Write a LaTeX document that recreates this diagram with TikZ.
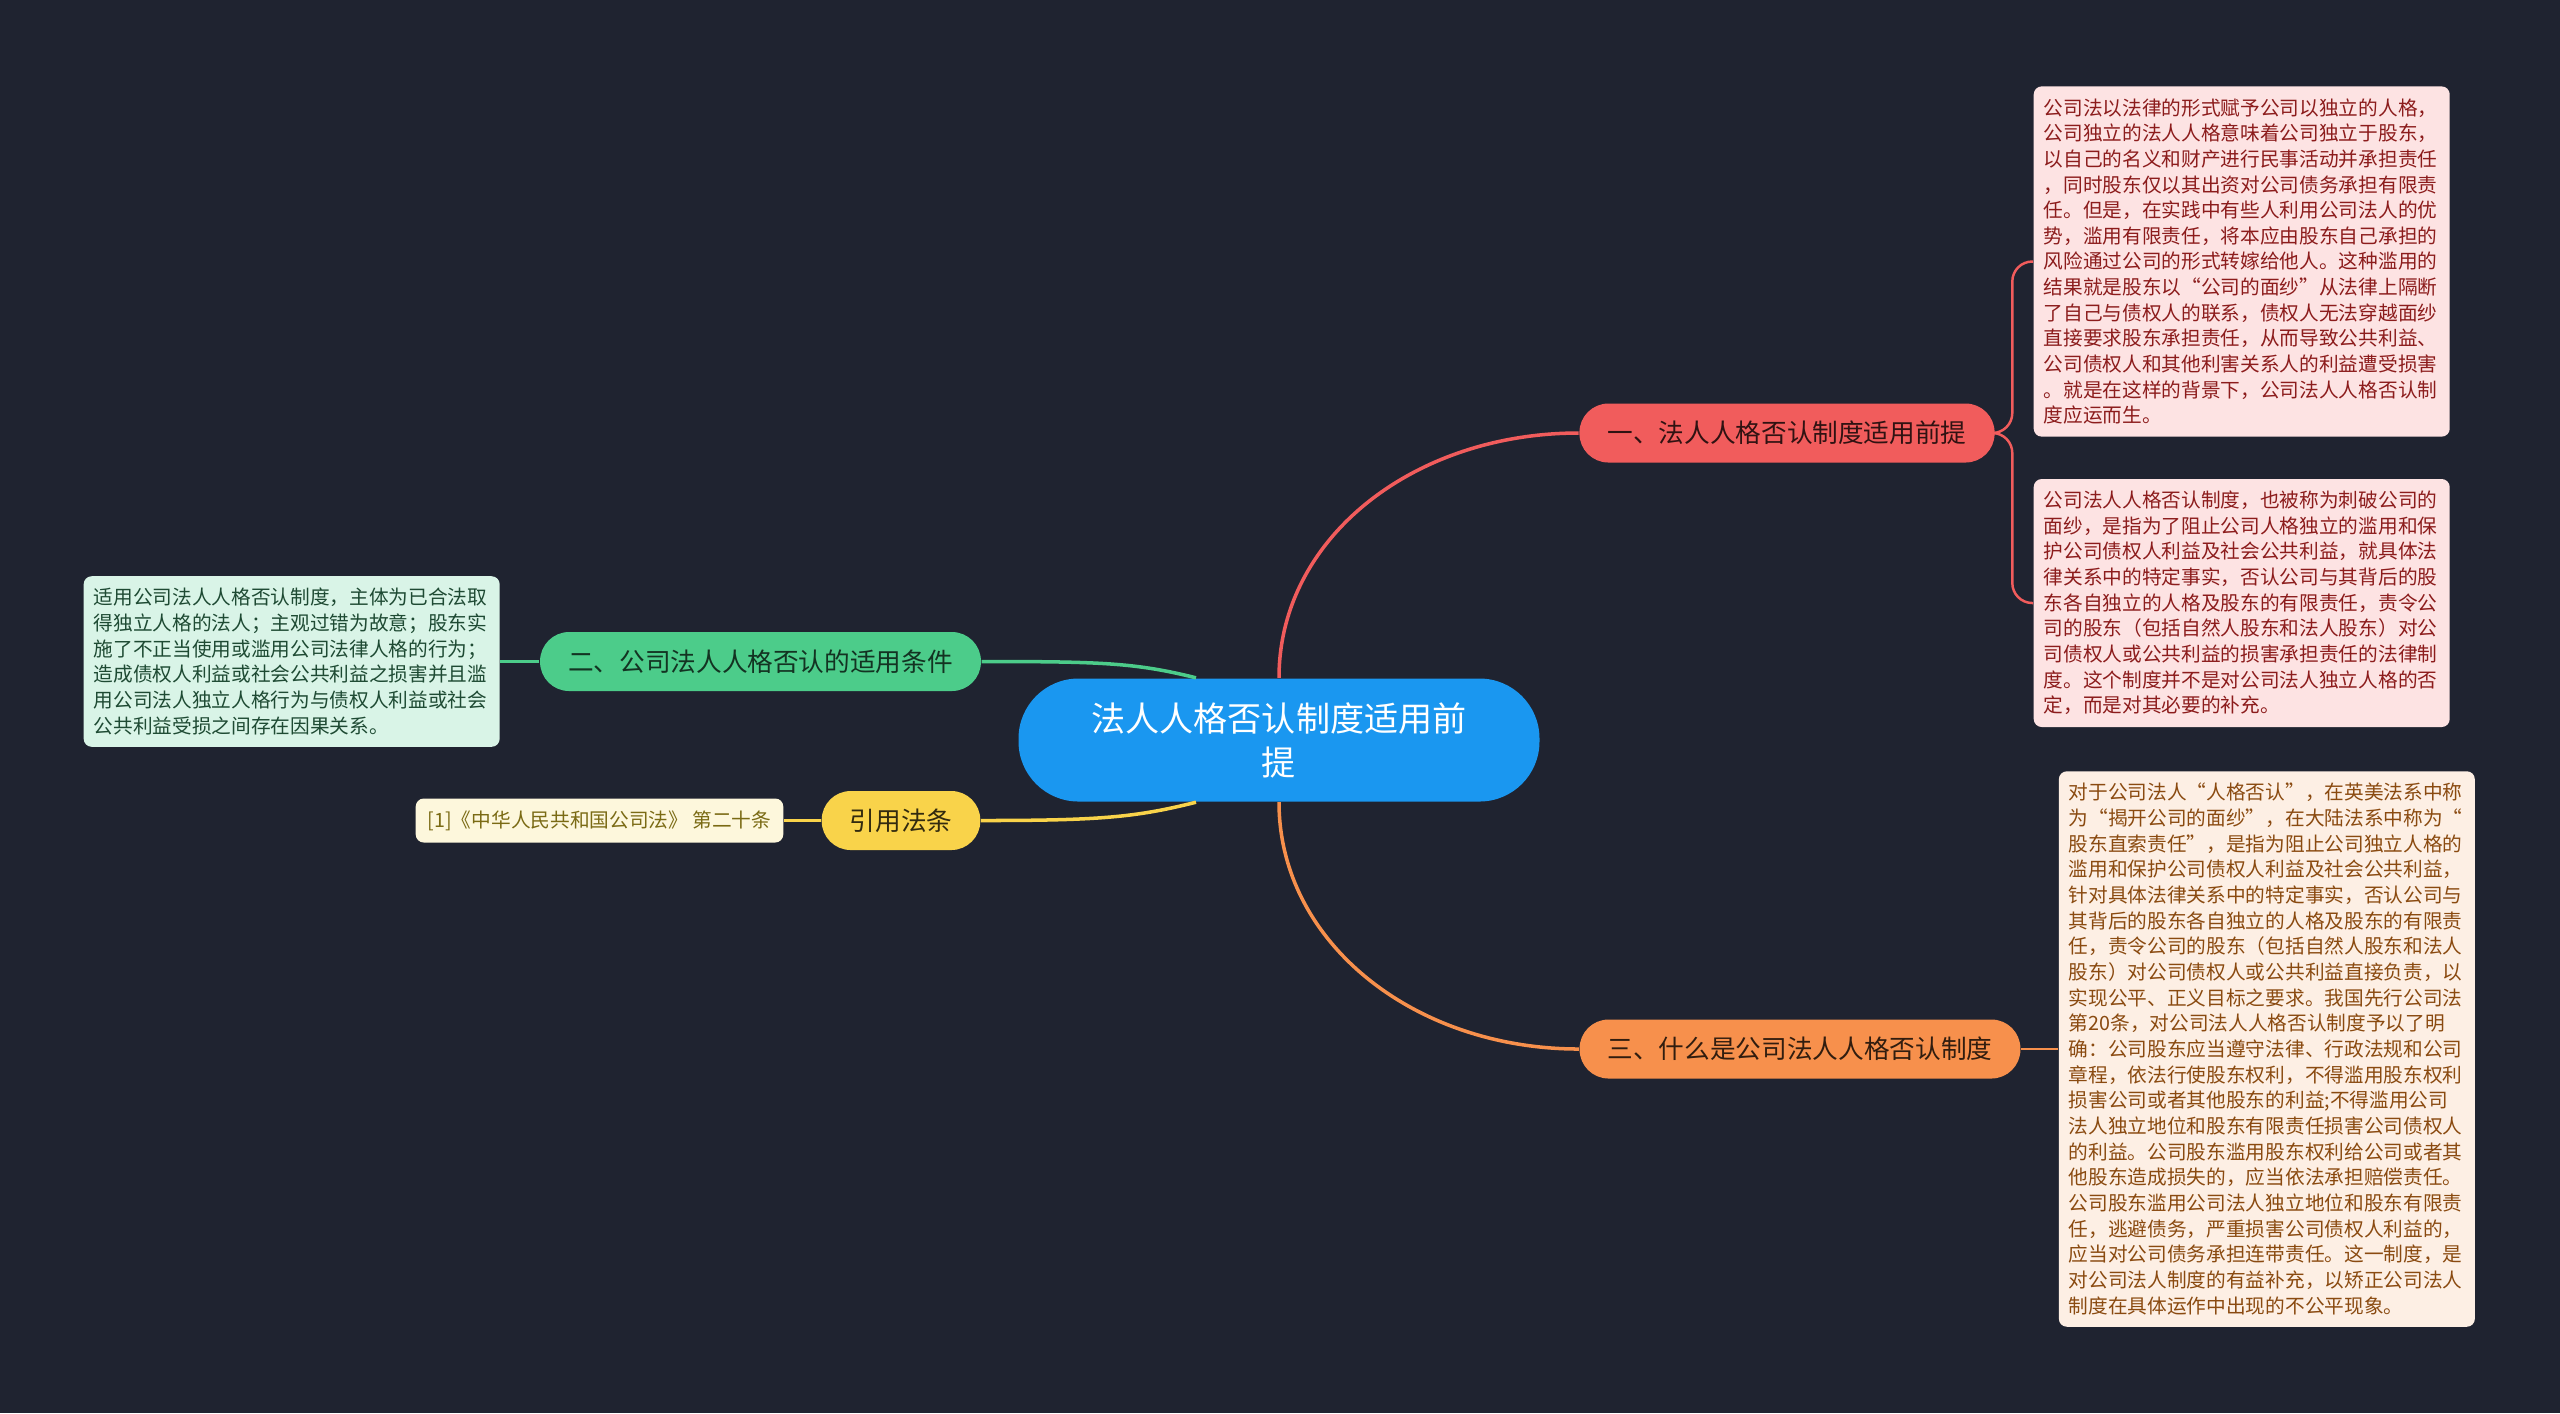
\documentclass[tikz,border=0pt]{standalone}
\usepackage{fontspec}
\setmainfont{Noto Sans CJK SC}
\usetikzlibrary{positioning}

\definecolor{bgdark}{HTML}{1F2330}
\definecolor{rootblue}{HTML}{1A97F0}
\definecolor{redtopic}{HTML}{F15C5C}
\definecolor{orangetopic}{HTML}{F7904C}
\definecolor{greentopic}{HTML}{4CCC8A}
\definecolor{yellowtopic}{HTML}{F9D34A}
\definecolor{redleaf}{HTML}{FDE3E3}
\definecolor{orangeleaf}{HTML}{FDEFE4}
\definecolor{greenleaf}{HTML}{D9F4E7}
\definecolor{yellowleaf}{HTML}{FDF7DC}
\definecolor{redtext}{HTML}{8C1C1C}
\definecolor{orangetext}{HTML}{8A4A10}
\definecolor{greentext}{HTML}{1E4A33}
\definecolor{yellowtext}{HTML}{7A6A14}

\begin{document}
\begin{tikzpicture}[
    node distance=0.38cm,
    root/.style={rectangle, rounded corners=0.6cm, fill=rootblue, text=white, minimum width=5.21cm, minimum height=1.23cm, align=center, font=\fontsize{9.7}{12.5}\selectfont},
    topic/.style={rectangle, rounded corners=0.29cm, minimum height=0.59cm, inner xsep=0.28cm, inner ysep=0pt, font=\fontsize{7.3}{9}\selectfont},
    leaf/.style={rectangle, rounded corners=0.08cm, text width=3.96cm, align=left, inner xsep=0.1cm, inner ysep=0.12cm, font=\fontsize{5.6}{7.3}\selectfont},
    link/.style={line width=1pt},
    twig/.style={line width=0.7pt, rounded corners=0.2cm}
]

\fill[bgdark] (0,0) rectangle (25.6,-14.13);
\useasboundingbox (0,0) rectangle (25.6,-14.13);

\node[root] (root) at (12.79,-7.40) {法人人格否认制度适用前\\提};
\node[topic, fill=redtopic, text=black!80!redtopic] (premise) at (17.87,-4.33) {一、法人人格否认制度适用前提};
\node[topic, fill=orangetopic, text=black!80!orangetopic] (whatis) at (18.00,-10.49) {三、什么是公司法人人格否认制度};
\node[topic, fill=greentopic, text=black!75!greentopic] (conditions) at (7.605,-6.615) {二、公司法人人格否认的适用条件};
\node[topic, fill=yellowtopic, text=black!80!yellowtopic] (cite) at (9.01,-8.205) {引用法条};

\node[leaf, fill=redleaf, text=redtext, anchor=west] (premisea) at (20.33,-2.615) {公司法以法律的形式赋予公司以独立的人格，\\公司独立的法人人格意味着公司独立于股东，\\以自己的名义和财产进行民事活动并承担责任\\，同时股东仅以其出资对公司债务承担有限责\\任。但是，在实践中有些人利用公司法人的优\\势，滥用有限责任，将本应由股东自己承担的\\风险通过公司的形式转嫁给他人。这种滥用的\\结果就是股东以“公司的面纱”从法律上隔断\\了自己与债权人的联系，债权人无法穿越面纱\\直接要求股东承担责任，从而导致公共利益、\\公司债权人和其他利害关系人的利益遭受损害\\。就是在这样的背景下，公司法人人格否认制\\度应运而生。};
\node[leaf, fill=redleaf, text=redtext, anchor=west] (premiseb) at (20.33,-6.03) {公司法人人格否认制度，也被称为刺破公司的\\面纱，是指为了阻止公司人格独立的滥用和保\\护公司债权人利益及社会公共利益，就具体法\\律关系中的特定事实，否认公司与其背后的股\\东各自独立的人格及股东的有限责任，责令公\\司的股东（包括自然人股东和法人股东）对公\\司债权人或公共利益的损害承担责任的法律制\\度。这个制度并不是对公司法人独立人格的否\\定，而是对其必要的补充。};
\node[leaf, fill=orangeleaf, text=orangetext, right=0.37cm of whatis] (whatisa) {对于公司法人“人格否认”，在英美法系中称\\为“揭开公司的面纱”，在大陆法系中称为“\\股东直索责任”，是指为阻止公司独立人格的\\滥用和保护公司债权人利益及社会公共利益，\\针对具体法律关系中的特定事实，否认公司与\\其背后的股东各自独立的人格及股东的有限责\\任，责令公司的股东（包括自然人股东和法人\\股东）对公司债权人或公共利益直接负责，以\\实现公平、正义目标之要求。我国先行公司法\\第20条，对公司法人人格否认制度予以了明\\确：公司股东应当遵守法律、行政法规和公司\\章程，依法行使股东权利，不得滥用股东权利\\损害公司或者其他股东的利益;不得滥用公司\\法人独立地位和股东有限责任损害公司债权人\\的利益。公司股东滥用股东权利给公司或者其\\他股东造成损失的，应当依法承担赔偿责任。\\公司股东滥用公司法人独立地位和股东有限责\\任，逃避债务，严重损害公司债权人利益的，\\应当对公司债务承担连带责任。这一制度，是\\对公司法人制度的有益补充，以矫正公司法人\\制度在具体运作中出现的不公平现象。};
\node[leaf, fill=greenleaf, text=greentext, left=0.39cm of conditions] (conditionsa) {适用公司法人人格否认制度，主体为已合法取\\得独立人格的法人；主观过错为故意；股东实\\施了不正当使用或滥用公司法律人格的行为；\\造成债权人利益或社会公共利益之损害并且滥\\用公司法人独立人格行为与债权人利益或社会\\公共利益受损之间存在因果关系。};
\node[leaf, fill=yellowleaf, text=yellowtext, text width=, inner xsep=0.12cm, left=0.37cm of cite] (citea) {[1]《中华人民共和国公司法》 第二十条};

\coordinate[right=0.17cm of premise.east] (fork);

% main branches
\draw[link, redtopic] (root.north) .. controls +(0,1.4) and +(-1.65,0) .. (premise.west);
\draw[link, orangetopic] (root.south) .. controls +(0,-1.4) and +(-1.65,0) .. (whatis.west);
\draw[link, greentopic] ([xshift=-0.83cm]root.north) .. controls +(-0.6,0.15) and +(1.2,0) .. (conditions.east);
\draw[link, yellowtopic] ([xshift=-0.83cm]root.south) .. controls +(-0.6,-0.15) and +(1.2,0) .. (cite.east);

% leaves
\draw[twig, redtopic] (premise.east) -- (fork) |- (premisea.west);
\draw[twig, redtopic] (premise.east) -- (fork) |- (premiseb.west);
\draw[twig, orangetopic] (whatis) -- (whatisa);
\draw[twig, greentopic] (conditions) -- (conditionsa);
\draw[twig, yellowtopic] (cite) -- (citea);

\end{tikzpicture}
\end{document}
